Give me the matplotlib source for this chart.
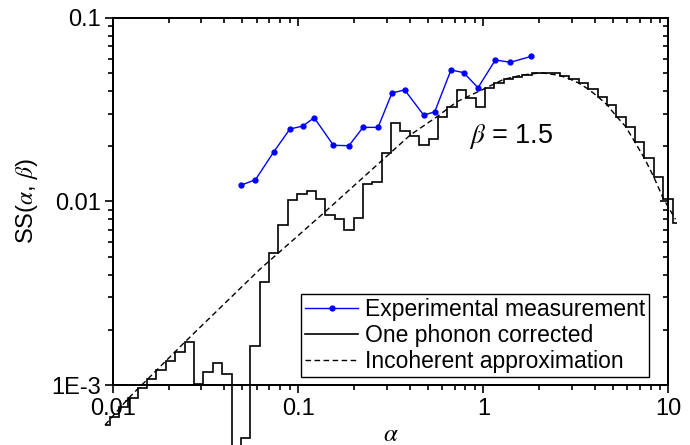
import matplotlib
matplotlib.use("Agg")
import matplotlib.pyplot as plt
from matplotlib.ticker import NullFormatter, LogLocator

plt.rcParams['font.family'] = ['Liberation Sans', 'DejaVu Sans']
plt.rcParams['mathtext.fontset'] = 'stix'

# ---------------- data ----------------
# Experimental measurement
exp_alpha = [0.0490, 0.0588, 0.0739, 0.0902, 0.106, 0.122, 0.155, 0.188, 0.224, 0.270,
             0.321, 0.376, 0.476, 0.546, 0.669, 0.783, 0.936, 1.161, 1.400, 1.817]
exp_ss = [0.01226, 0.01315, 0.01867, 0.02483, 0.02577, 0.02862, 0.02024, 0.02014, 0.02535, 0.02535,
          0.03900, 0.04055, 0.02958, 0.03077, 0.05208, 0.05036, 0.04168, 0.05903, 0.05737, 0.06179]

# One phonon corrected (histogram: bin edges and bin values)
op_edges = [0.00905, 0.009580, 0.01076, 0.01210, 0.01359, 0.01528, 0.01717, 0.01929, 0.02168,
            0.02436, 0.02738, 0.03077, 0.03457, 0.03885, 0.04366, 0.04906, 0.05513, 0.06196,
            0.06963, 0.07824, 0.08793, 0.09883, 0.1111, 0.1248, 0.1403, 0.1576, 0.1771,
            0.1991, 0.2237, 0.2514, 0.2825, 0.3175, 0.3567, 0.4009, 0.4505, 0.5063, 0.5689,
            0.6393, 0.7185, 0.8074, 0.9075, 1.020, 1.146, 1.288, 1.447, 1.627, 1.828, 2.054,
            2.308, 2.594, 2.915, 3.276, 3.681, 4.137, 4.649, 5.225, 5.871, 6.598, 7.415,
            8.332, 9.365, 10.52, 11.14]
op_ss = [6.05e-4, 6.72e-4, 7.56e-4, 8.46e-4, 9.59e-4, 1.074e-3, 1.207e-3, 1.351e-3, 1.519e-3,
         1.709e-3, 1.012e-3, 1.182e-3, 1.322e-3, 1.148e-3, 2.0e-4, 5.12e-4, 1.637e-3, 3.655e-3,
         5.26e-3, 7.44e-3, 1.019e-2, 1.099e-2, 1.145e-2, 1.028e-2, 8.44e-3, 8.03e-3, 6.99e-3,
         8.16e-3, 1.246e-2, 1.282e-2, 1.844e-2, 2.668e-2, 2.430e-2, 2.274e-2, 2.032e-2, 2.204e-2,
         2.898e-2, 3.273e-2, 4.052e-2, 3.678e-2, 3.285e-2, 4.139e-2, 4.406e-2, 4.632e-2, 4.786e-2,
         4.89e-2, 4.995e-2, 5.03e-2, 4.995e-2, 4.829e-2, 4.632e-2, 4.406e-2, 4.087e-2, 3.724e-2,
         3.356e-2, 2.898e-2, 2.556e-2, 2.097e-2, 1.719e-2, 1.360e-2, 1.034e-2, 7.61e-3]

# Incoherent approximation
inc_alpha = [0.00905, 0.01210, 0.02436, 0.06232, 0.09840, 0.1399, 0.4030, 0.5619, 0.7208,
             1.025, 1.288, 1.627, 2.054, 2.594, 2.915, 3.276, 3.681, 4.137, 4.649, 5.225,
             5.871, 6.598, 7.415, 8.332, 9.365, 10.91]
inc_ss = [6.05e-4, 8.46e-4, 1.709e-3, 4.286e-3, 6.43e-3, 8.80e-3, 2.303e-2, 2.898e-2, 3.499e-2,
          4.139e-2, 4.632e-2, 4.89e-2, 5.03e-2, 4.86e-2, 4.66e-2, 4.42e-2, 4.10e-2, 3.74e-2,
          3.37e-2, 2.92e-2, 2.56e-2, 2.10e-2, 1.72e-2, 1.36e-2, 1.04e-2, 8.0e-3]

x_ticks = [0.01, 0.1, 1, 10]
x_tick_labels = ['0.01', '0.1', '1', '10']
y_ticks = [1e-3, 1e-2, 1e-1]
y_tick_labels = ['1E-3', '0.01', '0.1']

# ---------------- figure ----------------
fig = plt.figure(figsize=(6.9, 4.45), dpi=100)
ax = fig.add_axes([0.1638, 0.1348, 0.8050, 0.8248])

ax.plot(exp_alpha, exp_ss, color='#0000ff', lw=1.0, marker='o', ms=3.5,
        label='Experimental measurement', zorder=4)
ax.stairs(op_ss, op_edges, baseline=None, color='black', lw=1.2, clip_on=False,
          label='One phonon corrected', zorder=3)
ax.plot(inc_alpha, inc_ss, color='black', lw=1.0, dashes=(4, 2.5), clip_on=False,
        label='Incoherent approximation', zorder=2)

ax.set_xscale('log')
ax.set_yscale('log')
ax.set_xlim(0.01, 10)
ax.set_ylim(1e-3, 0.1)

ax.set_xticks(x_ticks, labels=x_tick_labels)
ax.set_yticks(y_ticks, labels=y_tick_labels)
ax.xaxis.set_minor_locator(LogLocator(base=10, subs=range(2, 10)))
ax.yaxis.set_minor_locator(LogLocator(base=10, subs=range(2, 10)))
ax.xaxis.set_minor_formatter(NullFormatter())
ax.yaxis.set_minor_formatter(NullFormatter())

tick_fs = 17
ax.tick_params(which='major', direction='out', length=6, width=1.2, labelsize=tick_fs, pad=3)
ax.tick_params(which='minor', direction='out', length=3.5, width=1.2)
for s in ax.spines.values():
    s.set_linewidth(1.2)

# mirrored axes: ticks inward on top and right
axt = ax.twiny()
axt.set_xscale('log')
axt.set_xlim(ax.get_xlim())
axt.set_xticks(x_ticks)
axt.xaxis.set_minor_locator(LogLocator(base=10, subs=range(2, 10)))
axt.xaxis.set_minor_formatter(NullFormatter())
axt.tick_params(axis='x', which='major', direction='in', length=6, width=1.2, labeltop=False)
axt.tick_params(axis='x', which='minor', direction='in', length=3.5, width=1.2)

axr = ax.twinx()
axr.set_yscale('log')
axr.set_ylim(ax.get_ylim())
axr.set_yticks(y_ticks)
axr.yaxis.set_minor_locator(LogLocator(base=10, subs=range(2, 10)))
axr.yaxis.set_minor_formatter(NullFormatter())
axr.tick_params(axis='y', which='major', direction='in', length=6, width=1.2, labelright=False)
axr.tick_params(axis='y', which='minor', direction='in', length=3.5, width=1.2)
for a in (axt, axr):
    for s in a.spines.values():
        s.set_linewidth(1.2)

ax.set_xlabel(r'$\alpha$', fontsize=18, labelpad=2)
ax.set_ylabel(r'SS($\alpha$, $\beta$)', fontsize=17, labelpad=8)

ax.text(0.84, 0.0227, r'$\beta$ = 1.5', fontsize=19.5, ha='left', va='center')

leg = ax.legend(loc='lower right', bbox_to_anchor=(0.9654, 0.0226), borderaxespad=0,
                fontsize=16.5, frameon=True, fancybox=False, framealpha=1,
                edgecolor='black', handlelength=2.3, handletextpad=0.3,
                labelspacing=0.12, borderpad=0.18)
leg.get_frame().set_linewidth(1.0)
leg.set_zorder(10)
# draw main axes (and legend) over twin axes
ax.set_zorder(axt.get_zorder() + 2)
ax.patch.set_visible(False)

fig.savefig('out.png', dpi=100)
